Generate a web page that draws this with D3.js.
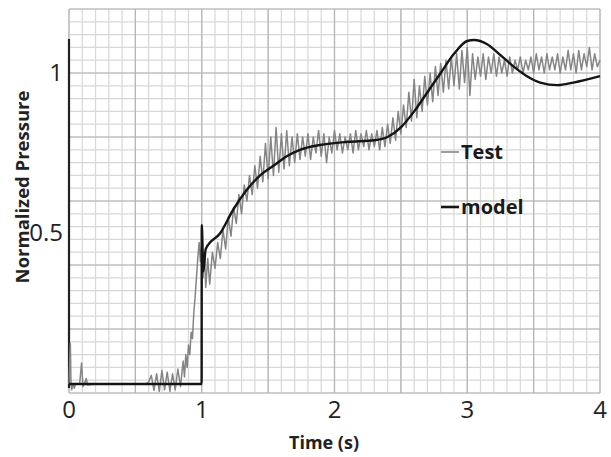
<!DOCTYPE html>
<html>
<head>
<meta charset="utf-8">
<script src="https://cdn.jsdelivr.net/npm/d3@7"></script>
<style>
  body { margin: 0; background: #fff; }
  svg { display: block; }
</style>
</head>
<body>
<div id="chart"></div>
<script>
var chartWidth = 611;
var chartHeight = 457;

// tick labels
var xTickValues = [0, 1, 2, 3, 4];
var yTickValues = [0.5, 1];
var yTickLabels = ["0.5", "1"];

// model (black, smooth)
var modelTime = [0, 0.999, 1.0, 1.012, 1.03, 1.14, 1.24, 1.34, 1.44, 1.54, 1.64, 1.74, 1.89, 2.1, 2.3, 2.4, 2.5, 2.6, 2.7, 2.8, 2.9, 3.0, 3.05, 3.15, 3.25, 3.35, 3.45, 3.55, 3.68, 3.8, 4.0];
var modelValue = [0.028, 0.028, 0.525, 0.38, 0.45, 0.50, 0.575, 0.635, 0.68, 0.71, 0.74, 0.76, 0.775, 0.785, 0.79, 0.80, 0.83, 0.88, 0.94, 1.0, 1.06, 1.10, 1.103, 1.09, 1.056, 1.02, 0.99, 0.97, 0.962, 0.97, 0.99];

// test (gray, noisy) as [time, value]
var testPoints = [
  [0.000, 0.028], [0.005, 0.10], [0.010, 0.155], [0.015, 0.03], [0.020, 0.01], [0.030, 0.03],
  [0.040, 0.015], [0.050, 0.03], [0.080, 0.028], [0.095, 0.094], [0.105, 0.02], [0.115, 0.028],
  [0.130, 0.045], [0.140, 0.025], [0.200, 0.028], [0.300, 0.027], [0.400, 0.028], [0.500, 0.027],
  [0.580, 0.028], [0.600, 0.035], [0.620, 0.055], [0.640, 0.008], [0.660, 0.06], [0.680, 0.005],
  [0.700, 0.07], [0.720, 0.01], [0.740, 0.065], [0.760, 0.005], [0.780, 0.06], [0.800, 0.01],
  [0.820, 0.075], [0.840, 0.02], [0.860, 0.10], [0.870, 0.05], [0.880, 0.12], [0.890, 0.08],
  [0.900, 0.15], [0.910, 0.12], [0.920, 0.19], [0.930, 0.17], [0.940, 0.25], [0.950, 0.30],
  [0.960, 0.36], [0.970, 0.42], [0.980, 0.47], [0.990, 0.41], [1.000, 0.47], [1.010, 0.36],
  [1.020, 0.44], [1.030, 0.33], [1.045, 0.42], [1.060, 0.34], [1.080, 0.44], [1.100, 0.39],
  [1.120, 0.47], [1.140, 0.42], [1.160, 0.51], [1.180, 0.45], [1.200, 0.55], [1.220, 0.49],
  [1.240, 0.58], [1.260, 0.53], [1.280, 0.62], [1.300, 0.56], [1.320, 0.65], [1.340, 0.60],
  [1.360, 0.68], [1.380, 0.62], [1.400, 0.71], [1.420, 0.64], [1.440, 0.74], [1.460, 0.66],
  [1.480, 0.78], [1.500, 0.67], [1.520, 0.80], [1.540, 0.68], [1.560, 0.83], [1.580, 0.69],
  [1.600, 0.81], [1.620, 0.70], [1.640, 0.82], [1.660, 0.71], [1.680, 0.80], [1.700, 0.72],
  [1.720, 0.81], [1.740, 0.73], [1.760, 0.80], [1.780, 0.74], [1.800, 0.81], [1.820, 0.73],
  [1.840, 0.80], [1.860, 0.75], [1.880, 0.82], [1.900, 0.74], [1.920, 0.81], [1.940, 0.72],
  [1.960, 0.80], [1.980, 0.75], [2.000, 0.82], [2.020, 0.76], [2.040, 0.81], [2.060, 0.75],
  [2.080, 0.80], [2.100, 0.76], [2.120, 0.81], [2.140, 0.75], [2.160, 0.82], [2.180, 0.76],
  [2.200, 0.81], [2.220, 0.77], [2.240, 0.82], [2.260, 0.76], [2.280, 0.81], [2.300, 0.77],
  [2.320, 0.82], [2.340, 0.76], [2.360, 0.83], [2.380, 0.77], [2.400, 0.84], [2.420, 0.78],
  [2.440, 0.86], [2.460, 0.79], [2.480, 0.88], [2.500, 0.81], [2.520, 0.90], [2.540, 0.83],
  [2.560, 0.94], [2.580, 0.85], [2.600, 0.98], [2.620, 0.86], [2.640, 0.96], [2.660, 0.88],
  [2.680, 0.99], [2.700, 0.90], [2.720, 1.00], [2.740, 0.91], [2.760, 1.02], [2.780, 0.93],
  [2.800, 1.03], [2.820, 0.94], [2.840, 1.04], [2.860, 0.95], [2.880, 1.05], [2.900, 0.96],
  [2.920, 1.06], [2.940, 0.95], [2.960, 1.07], [2.980, 0.97], [3.000, 1.08], [3.020, 0.93],
  [3.040, 1.06], [3.060, 0.98], [3.080, 1.05], [3.100, 0.99], [3.120, 1.06], [3.140, 0.98],
  [3.160, 1.05], [3.180, 1.00], [3.200, 1.06], [3.220, 0.99], [3.240, 1.05], [3.260, 1.00],
  [3.280, 1.04], [3.300, 0.99], [3.320, 1.05], [3.340, 1.00], [3.360, 1.04], [3.380, 1.01],
  [3.400, 1.05], [3.420, 1.00], [3.440, 1.04], [3.460, 1.01], [3.480, 1.05], [3.500, 1.00],
  [3.520, 1.06], [3.540, 1.01], [3.560, 1.05], [3.580, 1.00], [3.600, 1.06], [3.620, 1.01],
  [3.640, 1.05], [3.660, 1.01], [3.680, 1.06], [3.700, 1.00], [3.720, 1.05], [3.740, 1.01],
  [3.760, 1.07], [3.780, 1.01], [3.800, 1.06], [3.820, 1.00], [3.840, 1.07], [3.860, 1.01],
  [3.880, 1.06], [3.900, 1.02], [3.920, 1.08], [3.940, 1.01], [3.960, 1.06], [3.980, 1.02],
  [4.000, 1.04]
];

var legendLabels = ["Test", "model"];
var testColor = "#858585";
var modelColor = "#151515";

var margin = {top: 9, right: 11, bottom: 64, left: 69};
var width = chartWidth - margin.left - margin.right;
var height = chartHeight - margin.top - margin.bottom;

var svg = d3.select("#chart")
    .append("svg")
    .attr("width", chartWidth)
    .attr("height", chartHeight);

var g = svg.append("g")
    .attr("transform", "translate(" + margin.left + "," + margin.top + ")");

var x = d3.scaleLinear().domain([0, 4]).range([0, width]);
var y = d3.scaleLinear().domain([0, 1.2]).range([height, 0]);

// grid: minor every 0.1 s / 0.04, major every 0.5 s / 0.2
function drawGrid(xs, ys, color, w) {
    g.append("g")
        .selectAll("line")
        .data(xs)
        .enter().append("line")
        .attr("x1", function(d) { return x(d); })
        .attr("x2", function(d) { return x(d); })
        .attr("y1", 0)
        .attr("y2", height)
        .attr("stroke", color)
        .attr("stroke-width", w);
    g.append("g")
        .selectAll("line")
        .data(ys)
        .enter().append("line")
        .attr("x1", 0)
        .attr("x2", width)
        .attr("y1", function(d) { return y(d); })
        .attr("y2", function(d) { return y(d); })
        .attr("stroke", color)
        .attr("stroke-width", w);
}
drawGrid(d3.range(0, 4.001, 0.1), d3.range(0, 1.2001, 0.04), "#d8d8d8", 1.2);
drawGrid(d3.range(0, 4.001, 0.5), d3.range(0, 1.2001, 0.2), "#b4b4b4", 1.2);

// left axis line (stops short of the grid top)
g.append("line")
    .attr("x1", x(0)).attr("x2", x(0))
    .attr("y1", y(1.106)).attr("y2", y(0.016))
    .attr("stroke", "#222")
    .attr("stroke-width", 2.2);

var tickFont = "'Open Sans', sans-serif";
var boldFont = "'Open Sans', sans-serif";

g.append("g")
    .selectAll("text")
    .data(xTickValues)
    .enter().append("text")
    .attr("x", function(d) { return x(d); })
    .attr("y", height + 25)
    .attr("text-anchor", "middle")
    .style("font-family", tickFont)
    .style("font-size", "24px")
    .attr("fill", "#222")
    .text(function(d) { return d; });

g.append("g")
    .selectAll("text")
    .data(yTickValues)
    .enter().append("text")
    .attr("x", -6)
    .attr("y", function(d) { return y(d); })
    .attr("dy", "0.35em")
    .attr("text-anchor", "end")
    .style("font-family", tickFont)
    .style("font-size", "24px")
    .attr("fill", "#222")
    .text(function(d, i) { return yTickLabels[i]; });

svg.append("text")
    .attr("x", 324)
    .attr("y", 449)
    .attr("text-anchor", "middle")
    .style("font-family", boldFont)
    .style("font-weight", "bold")
    .style("font-size", "18px")
    .attr("fill", "#222")
    .text("Time (s)");

svg.append("text")
    .attr("transform", "translate(29,187) rotate(-90)")
    .attr("text-anchor", "middle")
    .style("font-family", boldFont)
    .style("font-weight", "bold")
    .style("font-size", "18.5px")
    .attr("fill", "#222")
    .text("Normalized Pressure");

// series
var testLine = d3.line()
    .x(function(d) { return x(d[0]); })
    .y(function(d) { return y(d[1]); });

g.append("path")
    .datum(testPoints)
    .attr("fill", "none")
    .attr("stroke", testColor)
    .attr("stroke-width", 1.5)
    .attr("stroke-linejoin", "round")
    .attr("d", testLine);

var modelPoints = modelTime.map(function(t, i) { return [t, modelValue[i]]; });
var modelLine = d3.line()
    .curve(d3.curveMonotoneX)
    .x(function(d) { return x(d[0]); })
    .y(function(d) { return y(d[1]); });

g.append("path")
    .datum(modelPoints)
    .attr("fill", "none")
    .attr("stroke", modelColor)
    .attr("stroke-width", 2.4)
    .attr("stroke-linejoin", "round")
    .attr("d", modelLine);

// legend
var legend = svg.append("g")
    .selectAll("g")
    .data(legendLabels)
    .enter().append("g")
    .attr("transform", function(d, i) { return "translate(441," + (152 + i * 55) + ")"; });

legend.append("line")
    .attr("x1", 0).attr("x2", 18)
    .attr("stroke", function(d, i) { return i === 0 ? testColor : modelColor; })
    .attr("stroke-width", function(d, i) { return i === 0 ? 1.6 : 2.6; });

legend.append("text")
    .attr("x", 20)
    .attr("dy", "0.35em")
    .style("font-family", boldFont)
    .style("font-weight", "bold")
    .style("font-size", "20px")
    .attr("fill", "#1a1a1a")
    .text(function(d) { return d; });
</script>
</body>
</html>
